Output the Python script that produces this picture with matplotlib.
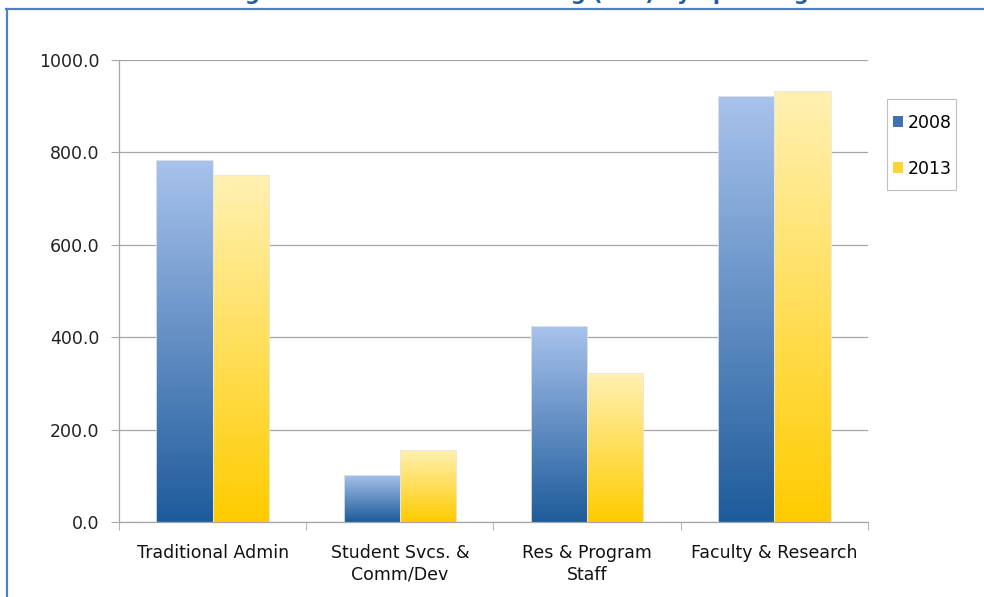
import numpy as np
import matplotlib
matplotlib.use("Agg")
import matplotlib.pyplot as plt
from matplotlib.colors import LinearSegmentedColormap
from matplotlib.lines import Line2D
from matplotlib.patches import Rectangle

categories = ["Traditional Admin", "Student Svcs. &\nComm/Dev", "Res & Program\nStaff", "Faculty & Research"]
series_names = ["2008", "2013"]
values_2008 = [783, 102, 424, 922]
values_2013 = [751, 156, 322, 933]
yticks = [0, 200, 400, 600, 800, 1000]
title = "Change in Administrative Staffing (FTE) by Spending"

# gradient colours (top, bottom)
grad_2008 = ("#A8C3EC", "#1E5B9B")
grad_2013 = ("#FFF1B3", "#FFCC00")

fig = plt.figure(figsize=(9.84, 5.97), dpi=100)
ax = fig.add_axes([0.1209, 0.1256, 0.7612, 0.7739])

x = np.arange(len(categories))
w = 0.3


def gradient_bars(xpos, vals, colors, label):
    cmap = LinearSegmentedColormap.from_list(label, [colors[1], colors[0]])
    bars = ax.bar(xpos, vals, w, color="none", edgecolor="#E6E6E6", linewidth=0.6, label=label, zorder=3)
    grad = np.linspace(0, 1, 256).reshape(-1, 1)
    for b in bars:
        x0, y0 = b.get_x(), b.get_y()
        im = ax.imshow(grad, cmap=cmap, aspect="auto", origin="lower",
                       extent=[x0, x0 + b.get_width(), y0, y0 + b.get_height()], zorder=2)
        im.set_clip_path(b)
    return bars


gradient_bars(x - w / 2, values_2008, grad_2008, series_names[0])
gradient_bars(x + w / 2, values_2013, grad_2013, series_names[1])

ax.set_xlim(-0.5, 3.5)
ax.set_ylim(0, 1000)
ax.set_yticks(yticks)
ax.set_yticklabels([f"{v:.1f}" for v in yticks], fontsize=12.5, color="#222222")
ax.set_xticks(x)
ax.set_xticklabels(categories, fontsize=12.5, color="#111111", linespacing=1.25)
ax.tick_params(axis="x", length=0, pad=16)
ax.set_xticks(np.arange(-0.5, 4, 1), minor=True)
ax.tick_params(axis="x", which="minor", length=6, color="#A6A6A6")
ax.tick_params(axis="y", length=6, color="#A6A6A6", pad=8)
ax.grid(axis="y", color="#A6A6A6", linewidth=0.9, zorder=0)
ax.set_axisbelow(True)
for s in ["top", "right"]:
    ax.spines[s].set_visible(False)
for s in ["left", "bottom"]:
    ax.spines[s].set_color("#A6A6A6")
    ax.spines[s].set_linewidth(0.9)

handles = [Rectangle((0, 0), 1, 1, facecolor="#3F70B0"),
           Rectangle((0, 0), 1, 1, facecolor="#FFD535")]
leg = fig.legend(handles, series_names, loc="upper left", bbox_to_anchor=(893 / 984, 1 - 114 / 597),
                 fontsize=12.5, frameon=False, handlelength=0.6, handleheight=0.6,
                 handletextpad=0.25, labelspacing=1.6, borderpad=0, borderaxespad=0)
# legend box
fig.add_artist(Rectangle((887 / 984, 1 - 190 / 597), 69 / 984, 91 / 597, transform=fig.transFigure,
                         facecolor="none", edgecolor="#BFBFBF", linewidth=0.8))

# outer frame (top and left edges only visible)
fig.add_artist(Line2D([6 / 984, 1], [1 - 9 / 597, 1 - 9 / 597], color="#4F81BD", linewidth=1.6))
fig.add_artist(Line2D([7 / 984, 7 / 984], [0, 1 - 9 / 597], color="#4F81BD", linewidth=1.6))

# title is mostly cut off at the top of the image
fig.text(0.505, 1 - 0.5 / 597, title, ha="center", va="baseline", fontsize=15,
         fontweight="bold", color="#1F5FA0")

fig.savefig("out.png", dpi=100)
